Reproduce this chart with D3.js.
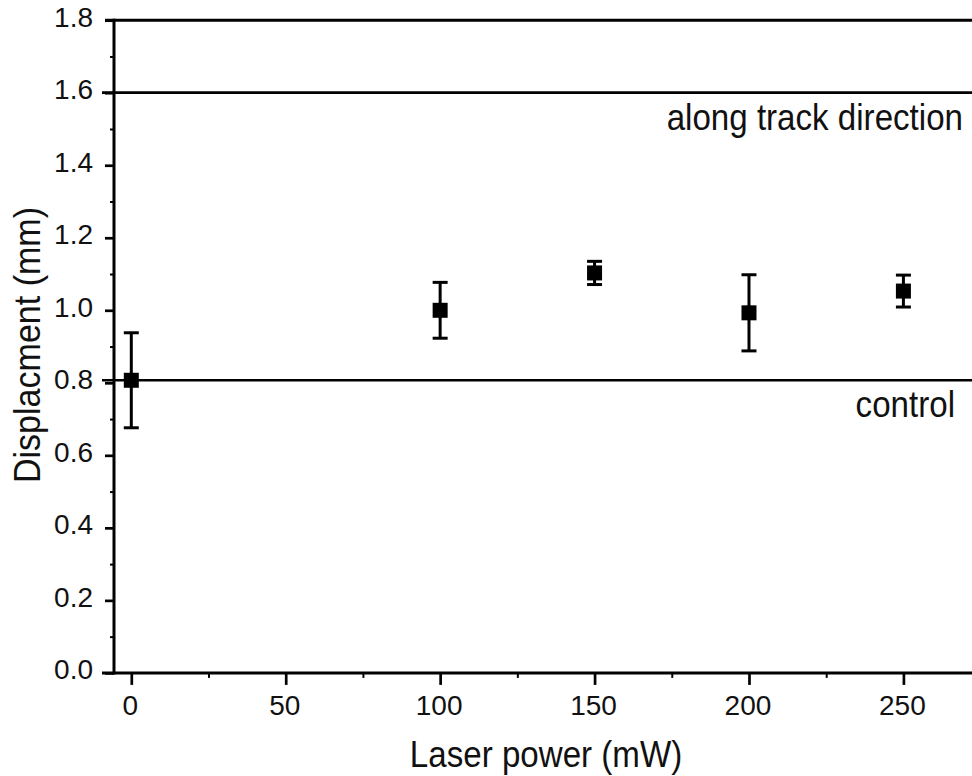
<!DOCTYPE html>
<html>
<head>
<meta charset="utf-8">
<script src="https://cdn.jsdelivr.net/npm/d3@7"></script>
<style>
  html, body { margin: 0; padding: 0; background: #fff; }
  svg { display: block; }
  text { font-family: "Liberation Sans", Arial, sans-serif; fill: #111; }
</style>
</head>
<body>
<script>
// ---- data ----
const powers = [0, 100, 150, 200, 250];
const means  = [0.807, 1.0, 1.103, 0.993, 1.053];
const errs   = [0.131, 0.077, 0.032, 0.105, 0.044];

const refValues = [1.6, 0.807];
const refLabels = ["along track direction", "control"];

const xMajorTicks = [0, 50, 100, 150, 200, 250];
const xMinorTicks = [25, 75, 125, 175, 225];
const yMajorTicks = [0, 0.2, 0.4, 0.6, 0.8, 1.0, 1.2, 1.4, 1.6, 1.8];
const yMinorTicks = [0.1, 0.3, 0.5, 0.7, 0.9, 1.1, 1.3, 1.5, 1.7];

const xLabel = "Laser power (mW)";
const yLabel = "Displacment (mm)";

// ---- layout ----
const W = 972, H = 776;
const mLeft = 114, mRight = 980, mTop = 20.2, mBottom = 672.9;

const x = d3.scaleLinear().domain([-5.6, 274.8]).range([mLeft, mRight]);
const y = d3.scaleLinear().domain([0, 1.8]).range([mBottom, mTop]);

const svg = d3.select("body").append("svg").attr("width", W).attr("height", H);

// reference lines
const refG = svg.append("g");
refG.selectAll("line").data(refValues).join("line")
  .attr("x1", mLeft - 12).attr("x2", W + 10)
  .attr("y1", d => y(d)).attr("y2", d => y(d))
  .attr("stroke", "#000").attr("stroke-width", 2.7);

// annotation texts (condensed horizontally like the reference)
const annoX = [963, 955];
const annoY = [130, 417];
const condense = 0.895;
refG.selectAll("text").data(refLabels).join("text")
  .attr("transform", (d, i) => `translate(${annoX[i]},${annoY[i]}) scale(${condense},1)`)
  .attr("text-anchor", "end")
  .attr("font-size", 37)
  .text(d => d);

// axes
const xAxis = d3.axisBottom(x).tickValues(xMajorTicks).tickSize(12).tickFormat(d3.format("d")).tickPadding(8);
const xAxisMinor = d3.axisBottom(x).tickValues(xMinorTicks).tickSize(5).tickFormat("");
const yAxis = d3.axisLeft(y).tickValues(yMajorTicks).tickSize(9).tickFormat(d3.format(".1f")).tickPadding(12);
const yAxisMinor = d3.axisLeft(y).tickValues(yMinorTicks).tickSize(4).tickFormat("");

function styleAxis(g, w) {
  g.select(".domain").remove();
  g.selectAll(".tick line").attr("stroke", "#000").attr("stroke-width", w);
  g.selectAll(".tick text").attr("font-size", 28).attr("fill", "#111")
    .attr("font-family", "'Liberation Sans', Arial, sans-serif");
}

const gx = svg.append("g").attr("transform", `translate(0,${mBottom})`).call(xAxis);
styleAxis(gx, 2.7);
gx.selectAll(".tick text").attr("dx", -1.5).attr("dy", "0.71em").attr("y", 22);
const gxm = svg.append("g").attr("transform", `translate(0,${mBottom})`).call(xAxisMinor);
styleAxis(gxm, 2);

const gy = svg.append("g").attr("transform", `translate(${mLeft},0)`).call(yAxis);
styleAxis(gy, 2.7);
gy.selectAll(".tick text").attr("dy", "0.32em").attr("y", -3);
const gym = svg.append("g").attr("transform", `translate(${mLeft},0)`).call(yAxisMinor);
styleAxis(gym, 2);

// axis lines + top border
svg.append("line").attr("x1", mLeft).attr("x2", mLeft).attr("y1", mTop - 1.5).attr("y2", mBottom + 1.5)
  .attr("stroke", "#000").attr("stroke-width", 3);
svg.append("line").attr("x1", mLeft - 12).attr("x2", W + 10).attr("y1", mBottom).attr("y2", mBottom)
  .attr("stroke", "#000").attr("stroke-width", 3);
svg.append("line").attr("x1", mLeft - 9).attr("x2", W + 10).attr("y1", mTop).attr("y2", mTop)
  .attr("stroke", "#000").attr("stroke-width", 3);

// axis titles
svg.append("text")
  .attr("transform", `translate(546,767) scale(${condense},1)`)
  .attr("text-anchor", "middle").attr("font-size", 37)
  .text(xLabel);
svg.append("text")
  .attr("transform", `translate(40,345) rotate(-90) scale(0.92,1)`)
  .attr("text-anchor", "middle").attr("font-size", 37)
  .text(yLabel);

// data with error bars
const pts = powers.map((p, i) => ({ p, m: means[i], e: errs[i] }));
const capW = 15, sq = 15;
const g = svg.append("g");
const pg = g.selectAll("g.pt").data(pts).join("g").attr("class", "pt");
pg.append("line")
  .attr("x1", d => x(d.p)).attr("x2", d => x(d.p))
  .attr("y1", d => y(d.m + d.e)).attr("y2", d => y(d.m - d.e))
  .attr("stroke", "#000").attr("stroke-width", 3);
pg.append("line")
  .attr("x1", d => x(d.p) - capW / 2).attr("x2", d => x(d.p) + capW / 2)
  .attr("y1", d => y(d.m + d.e)).attr("y2", d => y(d.m + d.e))
  .attr("stroke", "#000").attr("stroke-width", 3);
pg.append("line")
  .attr("x1", d => x(d.p) - capW / 2).attr("x2", d => x(d.p) + capW / 2)
  .attr("y1", d => y(d.m - d.e)).attr("y2", d => y(d.m - d.e))
  .attr("stroke", "#000").attr("stroke-width", 3);
pg.append("rect")
  .attr("x", d => x(d.p) - sq / 2).attr("y", d => y(d.m) - sq / 2)
  .attr("width", sq).attr("height", sq).attr("fill", "#000");
</script>
</body>
</html>
